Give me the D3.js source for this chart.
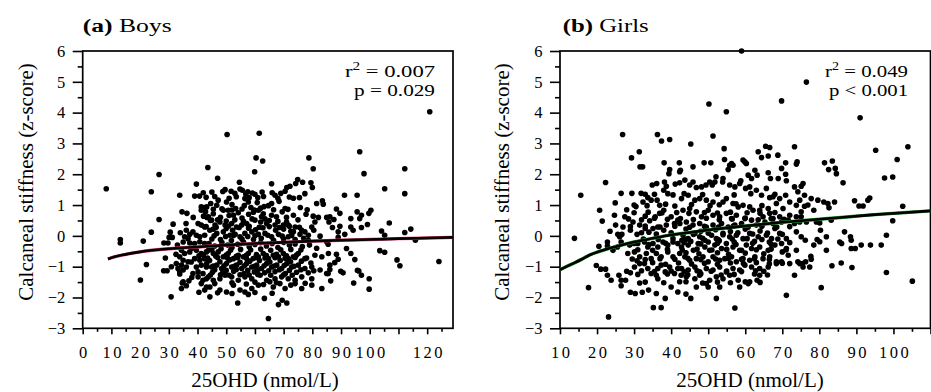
<!DOCTYPE html>
<html><head><meta charset="utf-8">
<script src="https://cdn.jsdelivr.net/npm/d3@7"></script>
<style>
html,body{margin:0;padding:0;background:#fff;}
svg{display:block;}
text{font-family:"Liberation Serif","Times New Roman",Times,serif;fill:#000;}
</style></head>
<body>
<svg id="chart" width="931" height="392"></svg>
<script>
// ---------- DATA ----------
const yTickValues = [-3,-2,-1,0,1,2,3,4,5,6];
const boysXLabels = [0,10,20,30,40,50,60,70,80,90,100,120];
const girlsXLabels = [10,20,30,40,50,60,70,80,90,100];
const boysStats = ["0.007", "= 0.029"];
const girlsStats = ["0.049", "< 0.001"];

const boysFitX = [8.8,10,15,20,30,40,50,60,70,80,90,100,110,120,129];
const boysFitY = [-0.75,-0.71,-0.60,-0.52,-0.42,-0.36,-0.30,-0.25,-0.21,-0.17,-0.14,-0.12,-0.09,-0.07,-0.05];
const girlsFitX = [10,12,14,16,18,20,25,30,35,40,45,50,55,60,65,70,75,80,85,90,95,100,105,110];
const girlsFitY = [-1.10,-0.98,-0.87,-0.75,-0.62,-0.53,-0.35,-0.20,-0.08,0.03,0.11,0.19,0.26,0.32,0.38,0.44,0.49,0.54,0.59,0.64,0.69,0.73,0.77,0.81];

const boysPoints = [
[8.2,1.53],[26.6,1.99],[23.9,1.43],[43.6,2.22],[39.6,1.68],[39.0,1.29],[40.7,1.29],[33.8,1.32],[34.6,0.78],[36.3,0.73],[26.6,0.53],[23.9,0.12],[13.1,-0.12],[13.1,-0.23],[21.1,-0.17],[31.5,0.38],[30.5,0.12],[30.1,-0.05],[31.2,-0.05],[28.3,-0.23],[29.7,-0.23],[28.8,-0.72],[28.2,-1.13],[29.4,-1.13],[30.9,-1.0],[22.2,-0.93],[20.1,-1.43],[30.8,-1.98],[33.8,-1.16],[33.8,-1.24],[35.0,-1.49],[34.4,-1.71],[36.1,-1.62],[40.5,-1.83],
[41.3,0.94],[42.5,0.92],[41.3,0.83],[42.8,0.78],[42.1,0.64],[43.3,0.60],[40.2,0.40],[41.3,0.35],[42.5,0.29],[36.1,0.18],[37.3,0.05],[38.4,0.13],[35.5,-0.03],[36.7,-0.09],[39.6,0.02],[40.8,-0.03],[42.5,0.02],[37.3,-0.23],[39.0,-0.25],[40.8,-0.19],[42.5,-0.25],[34.4,-0.47],[35.5,-0.57],[37.3,-0.52],[39.6,-0.47],[41.3,-0.57],[43.1,-0.52],[33.8,-0.68],[35.0,-0.79],[36.7,-0.84],[39.0,-0.74],[40.8,-0.79],[42.5,-0.74],[32.6,-0.90],[34.4,-0.95],[36.1,-1.01],[39.6,-1.01],[41.3,-0.95],[43.1,-1.01],[33.2,-1.06],[35.0,-1.11],[38.4,-1.22],[40.2,-1.33],[41.9,-1.22],[40.2,-1.17],[41.9,-1.44],[43.1,-1.39],[34.7,-1.53],[37.0,-1.46],[41.3,-1.55],[43.1,-1.66],[42.5,-1.76],
[50.3,3.29],[61.5,3.33],[60.4,2.53],[62.7,2.43],[59.9,2.08],[47.0,1.87],[78.8,2.53],[80.3,2.18],[65.8,1.69],[54.6,1.74],[74.9,1.83],[76.6,1.74],[74.2,1.70],[79.5,1.72],[80.0,1.57],[71.1,1.57],[70.5,1.45],[72.2,1.61],[73.4,1.22],[77.4,1.37],[81.5,1.05],[83.5,1.14],[83.8,1.03],[49.6,1.50],[48.8,1.44],[51.7,1.45],[54.8,1.52],[55.6,1.48],[57.5,1.43],[59.1,1.39],[60.0,1.35],[61.0,1.24],[56.5,1.21],[57.7,1.10],[56.3,0.98],[67.0,1.32],[64.7,0.98],[65.8,1.05],[70.5,0.89],[69.5,0.78],[73.4,0.67],[80.3,0.64],[82.1,0.60],[80.9,0.45],[79.8,0.29],[85.0,0.60],[85.8,0.45],[47.2,1.16],[46.7,0.99],[43.2,0.94],[50.1,1.10],[50.7,0.83],[49.0,0.83],[53.3,0.89],[54.2,0.75],[52.5,0.67],[61.2,0.83],[62.3,0.62],[62.9,0.72],[60.0,0.51],[65.8,0.67],[64.1,0.40],[67.0,0.35],[69.9,0.35],[71.6,0.35],[74.0,0.29],[76.3,0.18],[77.4,0.13],[78.6,0.02],[43.8,0.62],[44.9,0.51],[46.1,0.35],[47.8,0.45],[49.6,0.35],[51.9,0.40],[53.6,0.29],[55.4,0.35],[57.1,0.40],
[44.3,0.18],[46.7,0.08],[49.0,0.13],[51.3,0.02],[53.1,0.05],[54.8,-0.03],[56.5,0.08],[58.9,0.13],[61.2,0.05],[63.5,0.08],[65.8,-0.03],[68.2,0.05],[71.6,-0.03],[73.4,0.13],[75.7,0.05],[78.6,-0.14],[82.7,-0.01],[85.0,-0.19],
[43.8,-0.47],[45.5,-0.57],[47.2,-0.52],[49.0,-0.68],[50.7,-0.57],[52.5,-0.74],[54.2,-0.63],[56.0,-0.68],[57.7,-0.57],[59.4,-0.74],[61.2,-0.68],[62.9,-0.57],[64.7,-0.74],[66.4,-0.63],[68.2,-0.68],[69.9,-0.57],[71.6,-0.74],[73.4,-0.68],[75.1,-0.57],[77.4,-0.74],[80.9,-0.63],[83.3,-0.68],[85.6,-0.57],
[43.2,-0.90],[44.9,-1.01],[46.7,-0.95],[48.4,-1.06],[50.1,-0.90],[51.9,-1.01],[53.6,-0.95],[55.4,-1.06],[57.1,-0.90],[58.9,-1.01],[60.6,-0.95],[62.3,-1.06],[64.1,-0.90],[65.8,-1.01],[67.6,-0.95],[69.3,-1.06],[71.1,-0.90],[72.8,-1.01],[75.1,-0.95],[77.4,-1.06],[79.8,-1.01],[82.7,-1.11],[85.0,-1.22],
[43.8,-1.33],[45.5,-1.44],[47.8,-1.39],[49.6,-1.28],[51.9,-1.33],[54.2,-1.44],[56.5,-1.33],[58.9,-1.39],[61.8,-1.28],[64.1,-1.44],[67.0,-1.39],[69.3,-1.33],[71.6,-1.39],[74.0,-1.44],[76.3,-1.33],[79.8,-1.39],
[44.3,-1.66],[47.8,-1.76],[50.1,-1.82],[52.5,-1.60],[54.8,-1.76],[56.5,-1.82],[58.9,-1.71],[61.2,-1.60],[65.2,-1.49],[66.4,-1.66],[68.7,-1.55],[70.5,-1.71],[74.0,-1.55],[76.3,-1.71],[79.8,-1.60],[83.3,-1.71],
[44.3,-1.98],[54.0,-2.18],[57.7,-1.90],[63.3,-2.03],[68.2,-2.23],[69.5,-2.09],[71.1,-2.18],[64.7,-2.68],
[44.0,-0.25],[46.0,-0.33],[48.5,-0.22],[50.5,-0.30],[52.0,-0.38],[54.0,-0.27],[56.0,-0.20],[58.0,-0.35],[60.0,-0.28],[62.0,-0.22],[64.0,-0.33],[66.0,-0.25],[68.0,-0.38],[70.0,-0.21],[72.0,-0.30],[74.0,-0.26],[76.5,-0.35],[79.0,-0.30],[81.5,-0.40],
[45.5,0.72],[48.0,0.60],[51.0,0.66],[55.5,0.58],[57.8,0.70],[59.5,0.77],[63.5,0.55],[67.5,0.62],[71.0,0.60],[75.0,0.52],[77.8,0.70],
[44.2,-0.80],[47.8,-0.84],[51.2,-0.78],[54.8,-0.86],[58.2,-0.82],[61.6,-0.80],[65.2,-0.85],[68.8,-0.80],[72.4,-0.84],[76.2,-0.82],[79.5,-0.88],
[45.2,-1.18],[48.8,-1.20],[52.6,-1.15],[56.2,-1.22],[59.8,-1.17],[63.4,-1.20],[67.0,-1.16],[70.6,-1.22],[74.5,-1.18],[78.6,-1.20],
[45.5,0.22],[50.0,0.24],[52.2,0.18],[57.8,0.25],[60.2,0.20],[62.8,0.26],[67.2,0.18],[70.0,0.22],[72.5,0.15],[80.5,0.18],
[44.6,1.05],[52.0,1.02],[58.6,0.92],[60.8,1.08],[63.2,0.95],[68.4,1.12],[75.8,0.92],[78.2,0.85],
[44.5,0.50],[47.0,0.52],[50.0,0.48],[53.0,0.52],[56.0,0.47],[59.0,0.55],[62.0,0.45],[65.0,0.50],[68.0,0.47],[71.0,0.45],
[45.0,-0.10],[48.0,-0.12],[51.8,-0.15],[55.5,-0.10],[59.5,-0.12],[62.2,-0.08],[66.5,-0.14],[70.0,-0.10],[74.0,-0.12],[77.0,-0.08],
[45.0,-0.45],[48.2,-0.42],[51.5,-0.47],[55.0,-0.44],[58.5,-0.46],[62.0,-0.43],[65.5,-0.47],[69.0,-0.45],[72.5,-0.44],[76.0,-0.46],
[46.0,-1.10],[50.0,-1.12],[53.5,-1.09],[57.5,-1.12],[61.0,-1.10],[64.8,-1.13],[68.5,-1.10],[72.0,-1.12],[76.0,-1.10],[80.5,-1.13],
[42.0,-0.62],[46.3,-0.65],[50.0,-0.62],[53.5,-0.66],[57.0,-0.63],[60.5,-0.61],[64.0,-0.64],[67.5,-0.60],[71.0,-0.65],[74.5,-0.62],
[45.5,0.86],[48.5,0.88],[52.0,0.84],[55.5,0.87],[59.8,0.84],[62.0,0.90],[66.5,0.85],[71.5,0.86],
[43.0,1.25],[46.0,1.28],[51.0,1.22],[53.5,1.27],[58.0,1.24],[63.0,1.28],[68.0,1.22],[72.0,1.26],[75.5,1.24],
[46.0,-1.55],[52.0,-1.52],[57.0,-1.56],[60.0,-1.50],[63.0,-1.58],[67.5,-1.52],[72.5,-1.60],[77.5,-1.54],
[33.0,-0.30],[35.0,-0.20],[38.0,-0.40],[40.5,-0.65],[37.8,-0.85],[36.0,0.40],[38.5,0.60],[34.0,0.10],[32.5,-0.60],[38.0,-1.35],
[42.0,1.40],[45.0,1.42],[53.0,1.38],[56.8,1.36],[62.5,1.42],[66.0,1.40],[69.0,1.38],
[43.0,0.30],[46.5,0.28],[50.8,0.32],[54.5,0.27],[58.0,0.31],[61.5,0.28],[65.0,0.30],[68.5,0.27],[72.0,0.31],[75.5,0.28],
[45.8,0.00],[49.8,-0.02],[52.5,0.01],[57.5,-0.02],[60.0,0.00],[64.5,0.02],[69.5,-0.01],[72.8,0.01],
[43.5,-0.72],[47.0,-0.70],[50.5,-0.73],[54.0,-0.71],[57.0,-0.73],[60.3,-0.70],[63.5,-0.72],[67.0,-0.71],[70.5,-0.73],[74.0,-0.70],[78.0,-0.72],
[45.5,-0.98],[49.2,-0.97],[52.8,-0.99],[56.3,-0.97],[59.8,-0.99],[63.2,-0.97],[66.7,-0.98],[70.2,-0.96],[73.6,-0.99],
[44.5,-1.27],[48.0,-1.26],[51.0,-1.28],[54.8,-1.26],[58.0,-1.27],[61.0,-1.25],[65.5,-1.28],[70.0,-1.26],[73.0,-1.28],
[47.0,-1.85],[52.0,-1.87],[60.0,-1.84],[66.0,-1.86],
[120.9,4.03],[96.5,2.73],[98.0,2.02],[112.2,2.18],[112.2,1.37],[105.2,1.53],[91.2,1.32],[95.6,1.32],[88.4,0.87],[89.6,0.73],[86.1,0.62],[87.5,0.53],[93.4,0.56],[95.6,0.78],[97.1,0.67],[96.5,0.56],[100.4,0.83],[99.7,0.73],[87.0,0.27],[89.6,0.31],[93.4,0.29],[94.2,0.18],[97.1,0.27],[99.2,0.37],[89.0,0.13],[91.3,0.05],[89.0,-0.05],[106.8,0.42],[104.1,0.16],[105.2,0.02],[112.2,0.11],[114.3,0.22],[115.9,-0.14],[85.5,-0.27],[91.9,-0.41],[93.4,-0.57],[94.8,-0.77],[88.4,-0.60],[89.0,-0.76],[87.8,-0.87],[86.1,-0.95],[86.1,-1.09],[85.5,-1.22],[86.4,-1.46],[89.9,-1.15],[90.7,-1.20],[95.7,-1.12],[96.2,-1.14],[97.1,-1.28],[94.4,-1.53],[99.8,-1.39],[99.8,-1.73],[103.5,-0.48],[105.2,-0.53],[109.5,-0.78],[110.5,-0.97],[124.1,-0.83]
];

const girlsPoints = [
[59.0,6.0],[50.2,4.28],[54.9,4.03],[69.8,4.38],[76.5,4.99],[91.0,3.83],
[26.9,3.29],[36.3,3.29],[37.4,3.08],[39.6,3.13],[51.3,3.24],[45.3,2.98],
[29.3,2.53],[31.4,2.73],[31.6,2.24],[32.3,2.24],[38.1,2.37],[42.2,2.37],[45.9,2.24],
[48.9,2.37],[50.7,2.37],[54.3,2.83],[54.4,2.48],[55.8,2.29],[56.3,2.35],
[59.4,2.46],[60.3,2.35],[59.9,2.40],
[63.5,2.73],[65.5,2.91],[66.6,2.87],[64.4,2.54],[66.2,2.59],
[68.8,2.62],[70.9,2.37],[73.3,2.89],[74.0,2.40],
[81.4,2.37],[83.5,2.43],[82.5,2.15],[84.3,2.19],[84.6,2.02],[86.4,1.72],
[95.2,2.78],[101.0,2.48],[103.9,2.89],[97.6,1.88],[99.8,1.91],[102.5,0.96],[99.8,0.49],[98.1,0.02],
[89.5,1.14],[90.7,0.97],[91.8,0.97],[93.1,1.16],[93.6,1.23],
[86.8,0.13],[88.4,-0.03],[88.6,-0.14],[91.3,-0.30],[93.8,-0.30],[96.7,-0.30],[88.6,-0.41],[89.7,-0.41],[85.5,-0.20],[86.0,-0.25],
[81.9,-0.47],[83.2,0.51],[84.1,1.10],[79.6,1.16],[81.2,1.10],[82.3,1.05],
[75.1,1.61],[76.0,1.32],[77.8,1.21],[76.9,1.0],[76.0,0.96],[78.5,0.83],[82.6,0.91],[80.1,0.42],[79.2,0.45],[76.5,0.45],[75.1,0.62],[80.3,0.18],[79.4,-0.12],[81.9,-0.03],
[80.1,-0.19],[78.5,-0.30],[76.2,-0.14],[77.8,-0.76],[77.7,-0.66],[76.3,-0.84],[75.4,-0.90],[75.6,-1.01],[77.4,-1.01],
[83.4,-0.97],[85.9,-0.88],[88.8,-1.03],[80.5,-1.68],[98.1,-1.19],[105.1,-1.47],
[39.6,2.15],[39.4,2.02],[42.3,2.08],[22.3,1.73],[15.6,1.32],[26.5,1.38],[29.4,1.38],[31.9,1.38],[33.0,1.35],[33.7,1.24],[32.4,1.10],[34.6,1.16],[36.2,1.16],[36.9,0.99],[34.9,1.65],[36.1,1.70],[38.2,1.75],[38.7,1.61],[38.0,1.48],[39.1,1.37],[41.1,1.68],[42.3,1.72],[24.9,1.07],[20.7,0.83],[24.7,0.67],[21.4,0.48],[29.7,0.45],[27.0,0.29],[25.6,0.05],[26.7,0.05],[26.1,-0.03],[33.0,0.64],[34.2,0.49],[35.7,0.62],[36.9,0.73],[38.0,0.83],[31.5,0.35],[33.0,0.24],[35.1,0.24],[36.4,0.29],[38.7,0.35],[40.9,0.40],[40.0,0.62],[41.8,0.51],[13.9,-0.08],[20.5,-0.34],[22.8,-0.33],[22.8,-0.20],
[24.3,-0.47],[25.5,-0.36],[26.5,-0.20],[28.8,-0.30],[31.0,-0.25],[32.8,-0.20],[33.7,-0.36],[35.1,-0.25],[36.4,-0.36],[37.8,-0.20],[39.1,-0.30],[40.5,-0.20],[41.8,-0.25],[42.9,-0.14],
[28.3,-0.57],[30.1,-0.52],[31.5,-0.68],[33.3,-0.57],[34.6,-0.74],[36.0,-0.57],[37.3,-0.68],[39.1,-0.52],[40.5,-0.68],[42.3,-0.57],
[19.8,-0.96],[21.0,-1.08],[22.3,-1.08],[22.8,-1.28],[23.8,-1.44],[25.9,-1.28],[26.5,-1.44],[27.7,-1.44],[26.5,-1.62],
[29.0,-1.20],[30.1,-1.01],[30.8,-0.81],[32.8,-0.90],[33.7,-1.06],[34.6,-1.22],[36.4,-1.06],[37.3,-0.95],[38.4,-1.17],[39.6,-1.01],[40.9,-1.22],[41.8,-1.06],[42.7,-1.28],
[17.7,-1.68],[29.0,-1.83],[30.3,-1.87],[32.2,-1.83],[31.5,-1.53],[33.9,-1.76],[36.0,-1.87],[36.4,-1.39],[38.4,-2.03],[40.0,-1.66],[41.8,-1.82],[42.3,-1.49],[35.2,-2.33],[37.3,-2.33],[23.1,-2.63],
[28.0,0.85],[30.5,0.95],[27.5,0.62],[29.0,0.18],[30.8,0.05],[23.5,0.15],[25.0,0.35],
[52.1,1.92],[54.0,1.86],[55.4,2.15],[56.7,2.29],[58.8,1.79],[60.8,1.97],[61.7,1.86],[62.6,2.13],[63.2,1.97],[66.2,2.05],[66.8,1.86],[68.9,1.86],[69.8,2.19],[70.9,2.0],[71.1,1.79],[73.8,2.33],
[42.5,2.13],[43.7,1.81],[45.0,1.65],[45.9,1.75],[46.8,1.57],[48.2,1.59],[49.4,1.65],[50.4,1.75],
[51.1,1.65],[51.8,1.75],[53.9,1.75],[55.8,1.65],[57.2,1.59],[58.5,1.70],[60.1,1.54],[61.2,1.59],[63.0,1.48],[64.4,1.32],[65.7,1.54],[66.6,1.24],[67.5,1.27],[69.3,1.21],[70.9,1.32],[73.3,1.59],[74.2,1.43],[75.6,1.70],
[42.8,1.21],[44.6,1.32],[46.4,1.16],[47.7,1.21],[49.5,1.16],[51.3,1.10],[54.0,1.10],[54.9,1.21],[56.7,1.05],[58.1,0.94],[59.4,0.99],[61.2,0.94],[62.1,0.83],[63.9,0.83],[66.2,0.89],[68.4,1.05],[70.2,0.89],[72.0,1.10],[73.8,0.99],[74.7,1.16],
[43.2,0.83],[45.0,0.89],[46.8,0.78],[48.2,0.62],[50.0,0.83],[51.3,0.67],[53.1,0.62],[54.9,0.73],[56.3,0.56],[57.6,0.67],[59.9,0.56],[61.7,0.51],[64.8,0.62],[66.6,0.73],[67.5,0.56],[69.3,0.62],[72.0,0.67],[73.8,0.62],[75.1,0.78],
[42.35,0.40],[44.1,0.45],[45.9,0.35],[47.7,0.40],[49.5,0.29],[51.3,0.35],[53.6,0.40],[55.4,0.29],[57.2,0.35],[59.0,0.40],[60.8,0.29],[63.0,0.35],[65.3,0.45],[67.5,0.40],[69.8,0.45],[71.6,0.51],[73.3,0.40],[74.7,0.45],
[43.2,0.02],[44.6,-0.09],[46.4,0.08],[47.7,-0.03],[49.1,-0.14],[50.9,0.02],[52.2,-0.09],[54.0,0.08],[55.8,-0.03],[57.6,0.02],[59.4,-0.09],[61.2,0.08],[63.5,-0.03],[65.7,0.02],[67.1,-0.09],[69.3,0.08],[71.1,-0.09],[73.8,0.13],[75.1,-0.03],
[42.8,-0.36],[44.6,-0.30],[46.0,-0.47],[47.3,-0.25],[49.1,-0.36],[50.4,-0.47],[51.8,-0.30],[53.6,-0.41],[54.9,-0.25],[56.7,-0.36],[58.5,-0.47],[60.3,-0.30],[61.7,-0.41],[63.9,-0.36],[66.2,-0.47],[68.0,-0.30],[69.8,-0.25],[71.1,-0.41],[73.8,-0.47],
[43.7,-0.68],[45.0,-0.79],[46.8,-0.74],[48.6,-0.68],[50.0,-0.84],[51.3,-0.68],[53.1,-0.79],[54.5,-0.74],[56.3,-0.68],[57.6,-0.84],[59.4,-0.74],[61.2,-0.79],[62.6,-0.68],[64.8,-0.74],[66.6,-0.68],[68.4,-0.84],[71.6,-0.63],[74.2,-0.84],
[42.8,-1.06],[44.6,-1.11],[46.4,-1.01],[47.7,-1.17],[49.5,-1.06],[51.3,-1.11],[53.1,-1.01],[54.9,-1.17],[56.7,-1.06],[58.5,-1.11],[59.9,-0.95],[61.7,-1.01],[63.9,-1.06],[66.2,-1.01],[68.4,-0.90],[69.8,-0.84],[72.0,-0.90],
[44.1,-1.33],[46.4,-1.39],[47.7,-1.28],[50.4,-1.44],[52.2,-1.33],[54.0,-1.39],[55.8,-1.28],[58.1,-1.44],[60.8,-1.55],[61.2,-1.49],[63.2,-1.44],[63.9,-1.28],[73.3,-1.28],[74.7,-0.90],
[49.5,-1.55],[50.0,-1.66],[53.1,-1.66],[58.5,-1.66],[44.0,-1.89],[45.3,-2.03],[46.8,-1.66],[52.2,-2.03],[57.2,-2.34],[71.1,-1.93],
[34.0,0.12],[38.0,0.18],[44.0,0.22],[48.0,0.15],[52.0,0.20],[56.0,0.14],[60.0,0.22],[64.0,0.16],[68.0,0.24],
[44.0,-0.55],[47.5,-0.58],[52.5,-0.55],[55.5,-0.60],[60.0,-0.56],[65.0,-0.58],[70.0,-0.52],
[45.3,-0.18],[50.0,-0.20],[53.0,-0.16],[57.0,-0.20],[62.5,-0.18],[66.5,-0.20],[72.0,-0.22],
[28.5,0.55],[32.0,0.52],[35.5,0.57],[39.0,0.54],[42.5,0.56],[46.0,0.53],[49.5,0.57],[53.0,0.52],[56.5,0.55],[60.0,0.58],[63.5,0.52],[67.0,0.56],[70.5,0.54],
[31.5,-0.90],[35.0,-0.87],[38.5,-0.92],[42.0,-0.88],[45.5,-0.91],[49.0,-0.89],[52.5,-0.92],[56.0,-0.88],[59.5,-0.90],[63.0,-0.87],[66.5,-0.91],[70.0,-0.89],
[30.0,-0.25],[34.0,-0.28],[38.5,-0.24],[43.5,-0.22],[48.0,-0.26],[52.5,-0.24],[57.5,-0.28],[62.0,-0.24],[67.0,-0.27],
[30.0,1.00],[33.5,0.98],[38.5,1.03],[41.0,0.97],[45.5,1.02],[50.5,0.98],[53.0,1.01],[57.5,1.04],[64.5,0.98],
[31.0,-1.25],[36.0,-1.28],[39.0,-1.24],[44.5,-1.26],[48.0,-1.23],[53.5,-1.27],[57.0,-1.25],[62.5,-1.24],[66.0,-1.27],
[32.0,0.10],[36.0,0.06],[40.0,0.10],[46.0,0.05],[50.0,0.09],[54.0,0.04],[58.0,0.10],[62.0,0.06],[66.0,0.09],[70.0,0.05],
[35.5,1.35],[40.5,1.33],[43.5,1.37],[48.5,1.34],[52.5,1.36],[57.0,1.33],[61.5,1.37],[68.0,1.35],
[30.0,0.75],[33.8,0.77],[37.5,0.74],[41.5,0.76],[44.8,0.73],[49.0,0.76],[52.5,0.74],[56.0,0.77],[60.5,0.75],[64.0,0.73],[68.0,0.76],
[29.0,0.30],[33.0,0.32],[37.0,0.29],[41.0,0.31],[45.0,0.28],[49.0,0.31],[52.8,0.29],[56.8,0.32],[60.5,0.28],[64.5,0.31],[68.5,0.29],[72.0,0.30],
[32.5,-0.10],[36.5,-0.12],[40.5,-0.09],[44.0,-0.11],[48.5,-0.08],[52.7,-0.12],[56.5,-0.10],[60.5,-0.09],[64.5,-0.12],[68.8,-0.10],
[31.0,-0.45],[35.0,-0.47],[39.0,-0.44],[43.0,-0.46],[47.0,-0.43],[51.0,-0.46],[55.0,-0.44],[59.0,-0.47],[63.0,-0.45],[67.0,-0.43],[71.0,-0.46],
[29.5,-0.75],[33.0,-0.77],[37.0,-0.74],[41.0,-0.76],[44.5,-0.73],[48.0,-0.77],[52.0,-0.75],[55.5,-0.73],[59.0,-0.76],[62.5,-0.74],[66.5,-0.77],
[28.0,-1.15],[32.0,-1.13],[35.5,-1.16],[40.0,-1.14],[43.5,-1.17],[47.0,-1.13],[50.8,-1.15],[55.0,-1.14],[59.0,-1.16],[62.8,-1.13],[65.0,-1.15],
[33.0,-1.50],[38.0,-1.52],[44.0,-1.49],[48.5,-1.53],[52.5,-1.50],[56.0,-1.52],[60.0,-1.49],[64.0,-1.51]
];

// ---------- LAYOUT ----------
const svg = d3.select("#chart");
const yRange = [328.3, 51];
const panels = [
  {title:"(a)", name:" Boys", titleX:82.7, titleLen:89, points:boysPoints, fitX:boysFitX, fitY:boysFitY,
   domain:[0,129], range:[82.7,453], labels:boysXLabels, major:d3.range(0,130,10), minor:d3.range(5,130,10),
   fitColor:"#e0406a", stats:boysStats, statX:435, rLen:90, pLen:81,
   yTitleX:32.5, xTitleX:265},
  {title:"(b)", name:" Girls", titleX:562.7, titleLen:86, points:girlsPoints, fitX:girlsFitX, fitY:girlsFitY,
   domain:[10,110], range:[560,930.5], labels:girlsXLabels, major:d3.range(10,111,10), minor:d3.range(15,111,10),
   fitColor:"#20a030", stats:girlsStats, statX:908, rLen:83, pLen:79,
   yTitleX:508.5, xTitleX:750}
];

panels.forEach(p => {
  const x = d3.scaleLinear().domain(p.domain).range(p.range);
  const y = d3.scaleLinear().domain([-3,6]).range(yRange);
  const g = svg.append("g");

  g.append("g").attr("transform",`translate(${p.range[0]},0)`)
    .call(d3.axisLeft(y).tickValues(d3.range(-2.5,6,1)).tickSize(5).tickFormat(""))
    .call(a=>{a.select(".domain").remove(); a.selectAll("line").attr("stroke-width",1.6);});
  g.append("g").attr("transform",`translate(${p.range[0]},0)`)
    .call(d3.axisLeft(y).tickValues(yTickValues).tickSize(10).tickPadding(7.5).tickFormat(d3.format("d")))
    .call(a=>{a.select(".domain").remove(); a.selectAll("line").attr("stroke-width",1.6);
      a.selectAll("text").style("font-family","Liberation Serif").style("font-size","16.5px").attr("fill","#000");});
  g.append("g").attr("transform",`translate(0,${yRange[0]})`)
    .call(d3.axisBottom(x).tickValues(p.minor).tickSize(3.5).tickFormat(""))
    .call(a=>{a.select(".domain").remove(); a.selectAll("line").attr("stroke-width",1.6);});
  g.append("g").attr("transform",`translate(0,${yRange[0]})`)
    .call(d3.axisBottom(x).tickValues(p.major).tickSize(6).tickPadding(12)
      .tickFormat(d => p.labels.includes(d) ? String(d) : ""))
    .call(a=>{a.select(".domain").remove(); a.selectAll("line").attr("stroke-width",1.6);
      a.selectAll("text").style("font-family","Liberation Serif").style("font-size","16.5px")
        .style("letter-spacing","2.5px").attr("dx","1.25px").attr("fill","#000");});

  g.append("rect").attr("x",p.range[0]).attr("y",yRange[1])
    .attr("width",p.range[1]-p.range[0]).attr("height",yRange[0]-yRange[1])
    .attr("fill","none").attr("stroke","#000").attr("stroke-width",1.7);

  const clip = "clip"+Math.round(p.titleX);
  svg.append("clipPath").attr("id",clip).append("rect")
    .attr("x",p.range[0]-3).attr("y",yRange[1]-3).attr("width",p.range[1]-p.range[0]+6).attr("height",yRange[0]-yRange[1]+6);
  g.append("g").attr("clip-path",`url(#${clip})`).selectAll("circle").data(p.points).join("circle")
    .attr("cx",d=>x(d[0])).attr("cy",d=>y(d[1])).attr("r",2.8).attr("fill","#000");

  const fit = p.fitX.map((v,i)=>[v,p.fitY[i]]);
  const line = d3.line().x(d=>x(d[0])).y(d=>y(d[1])).curve(d3.curveMonotoneX);
  g.append("path").datum(fit).attr("d",line).attr("fill","none").attr("stroke",p.fitColor).attr("stroke-width",3.4);
  g.append("path").datum(fit).attr("d",line).attr("fill","none").attr("stroke","#000").attr("stroke-width",2.6);

  const t = g.append("text").attr("x",p.titleX).attr("y",32).style("font-size","18.5px")
    .attr("textLength",p.titleLen).attr("lengthAdjust","spacingAndGlyphs");
  t.append("tspan").style("font-weight","bold").text(p.title);
  t.append("tspan").text(p.name);

  const r = g.append("text").attr("x",p.statX).attr("y",76.5).attr("text-anchor","end").style("font-size","17px")
    .attr("textLength",p.rLen).attr("lengthAdjust","spacingAndGlyphs");
  r.append("tspan").text("r");
  r.append("tspan").attr("dy","-6.5").style("font-size","11.5px").text("2");
  r.append("tspan").attr("dy","6.5").text(" = " + p.stats[0]);
  g.append("text").attr("x",p.statX).attr("y",96).attr("text-anchor","end").style("font-size","17px")
    .attr("textLength",p.pLen).attr("lengthAdjust","spacingAndGlyphs")
    .text("p " + p.stats[1]);

  g.append("text").attr("transform",`translate(${p.yTitleX},182) rotate(-90)`).attr("text-anchor","middle")
    .style("font-size","21px").text("Calcaneal stiffness (z-score)");
  g.append("text").attr("x",p.xTitleX).attr("y",386.5).attr("text-anchor","middle")
    .style("font-size","21px").text("25OHD (nmol/L)");
});
</script>
</body></html>
